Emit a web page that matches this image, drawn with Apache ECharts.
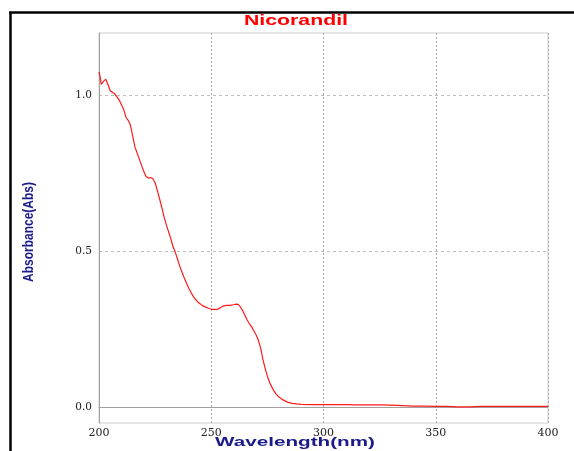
<!DOCTYPE html>
<html>
<head>
<meta charset="utf-8">
<style>
  html, body { margin: 0; padding: 0; background: #ffffff; }
  #chart { width: 574px; height: 451px; }
</style>
<script src="https://cdn.jsdelivr.net/npm/echarts@6/dist/echarts.min.js"></script>
</head>
<body>
<div id="chart"></div>
<script>
// UV absorption spectrum of nicorandil
const wavelengths = [
  200, 200.5, 201, 202, 203, 204, 205, 206, 207, 208, 209, 210,
  211, 212, 213, 214, 215, 216, 217, 218, 219, 220, 221, 222,
  223, 224, 225, 226, 227, 228, 229, 230, 231, 232, 233, 234,
  235, 236, 237, 238, 239, 240, 241, 242, 243, 244, 245, 246,
  247, 248, 249, 250, 251, 252, 253, 254, 255, 256, 257, 258,
  259, 260, 261, 262, 263, 264, 265, 266, 267, 268, 269, 270,
  271, 272, 273, 274, 275, 276, 277, 278, 279, 280, 282, 284,
  286, 288, 290, 295, 300, 305, 310, 315, 320, 325, 330, 335,
  340, 345, 350, 355, 360, 365, 370, 375, 380, 385, 390, 395, 400
];
const absorbance = [
  1.075, 1.060, 1.035, 1.045, 1.052, 1.035, 1.015, 1.010, 1.005, 0.995, 0.985, 0.970,
  0.955, 0.930, 0.920, 0.905, 0.870, 0.835, 0.815, 0.795, 0.775, 0.755, 0.740, 0.735,
  0.737, 0.733, 0.720, 0.695, 0.668, 0.640, 0.610, 0.585, 0.563, 0.540, 0.515, 0.497,
  0.475, 0.452, 0.433, 0.415, 0.398, 0.382, 0.368, 0.356, 0.346, 0.338, 0.332, 0.327,
  0.323, 0.320, 0.317, 0.315, 0.314, 0.314, 0.315, 0.319, 0.324, 0.326, 0.327, 0.327,
  0.328, 0.329, 0.331, 0.330, 0.322, 0.310, 0.295, 0.280, 0.268, 0.258, 0.245, 0.232,
  0.215, 0.190, 0.155, 0.125, 0.100, 0.080, 0.065, 0.052, 0.042, 0.034, 0.024, 0.017,
  0.013, 0.011, 0.010, 0.009, 0.009, 0.009, 0.009, 0.008, 0.008, 0.008, 0.007, 0.006,
  0.004, 0.004, 0.003, 0.003, 0.002, 0.002, 0.003, 0.003, 0.003, 0.003, 0.003, 0.003, 0.003
];
const yTickValues = [0, 0.5, 1.0];

const chart = echarts.init(document.getElementById('chart'), null, { renderer: 'canvas' });

const option = {
  backgroundColor: '#ffffff',
  animation: false,
  grid: {
    left: 99, right: 26, top: 33, bottom: 28,
    show: true, borderColor: '#cccccc', borderWidth: 1
  },
  xAxis: {
    type: 'value',
    min: 200, max: 400, interval: 50,
    axisLine: { show: true, lineStyle: { color: '#a0a0a0', width: 1 } },
    axisTick: { show: false },
    axisLabel: {
      color: '#222222', fontFamily: 'DejaVu Serif', fontSize: 11, margin: 5,
      showMinLabel: true, showMaxLabel: true
    },
    splitLine: { show: true, lineStyle: { color: '#a8a8a8', type: [2, 2], width: 1 } }
  },
  yAxis: {
    type: 'value',
    min: -0.05, max: 1.2,
    axisLine: { show: true, lineStyle: { color: '#a0a0a0', width: 1 } },
    axisTick: { show: false, customValues: yTickValues },
    axisLabel: {
      customValues: yTickValues,
      color: '#222222', fontFamily: 'DejaVu Serif', fontSize: 10.5, margin: 7,
      formatter: v => v.toFixed(1)
    },
    splitLine: { show: true, lineStyle: { color: '#bdbdbd', type: [3, 3], width: 1 } }
  },
  series: [{
    type: 'line',
    data: wavelengths.map((w, i) => [w, absorbance[i]]),
    showSymbol: false,
    smooth: false,
    lineStyle: { color: '#ff1a1a', width: 1.2 },
    z: 3
  }],
  graphic: [
    // page frame
    { type: 'line', shape: { x1: 9, y1: 12.5, x2: 574, y2: 12.5 }, style: { stroke: '#000000', lineWidth: 2.5 } },
    { type: 'line', shape: { x1: 10.5, y1: 12, x2: 10.5, y2: 451 }, style: { stroke: '#000000', lineWidth: 2.5 } },
    // title
    {
      type: 'text', x: 296, y: 21, scaleX: 1.52,
      style: {
        text: 'Nicorandil', fill: '#ff0000',
        font: 'bold 14px "Liberation Sans", Arial, sans-serif',
        textAlign: 'center', textVerticalAlign: 'middle'
      }
    },
    // x axis name
    {
      type: 'text', x: 295, y: 443, scaleX: 1.72,
      style: {
        text: 'Wavelength(nm)', fill: '#1b1b8a',
        font: 'bold 12px "Liberation Sans", Arial, sans-serif',
        textAlign: 'center', textVerticalAlign: 'middle'
      }
    },
    // y axis name
    {
      type: 'text', x: 29, y: 232, rotation: Math.PI / 2, scaleY: 1.15,
      style: {
        text: 'Absorbance(Abs)', fill: '#1b1b8a',
        font: 'bold 12px "Liberation Sans", Arial, sans-serif',
        textAlign: 'center', textVerticalAlign: 'middle'
      }
    }
  ]
};

chart.setOption(option);
</script>
</body>
</html>
